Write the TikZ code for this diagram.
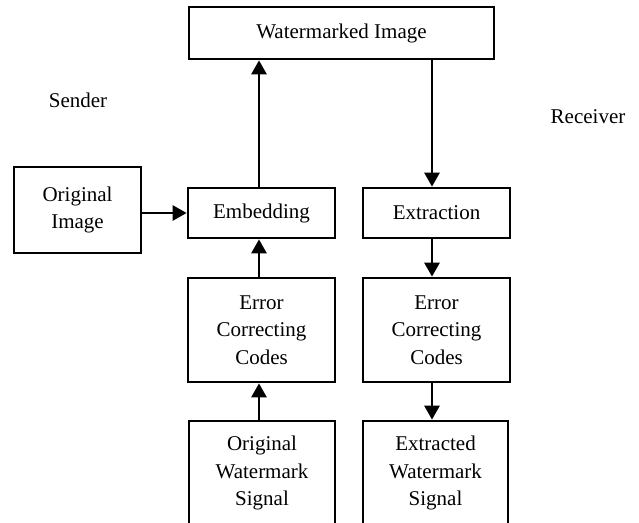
\documentclass[tikz,border=0pt]{standalone}
\usepackage{fontspec}
\setmainfont{Liberation Serif}
\usetikzlibrary{arrows.meta}
\begin{document}
\begin{tikzpicture}[x=1pt,y=1pt,
  box/.style={draw,line width=2.7pt,align=center,inner sep=0pt,
    font=\fontsize{21}{27.5}\selectfont},
  lbl/.style={inner sep=0pt,font=\fontsize{21}{27.5}\selectfont},
  arr/.style={line width=2.7pt,-{Triangle[width=15pt,length=14pt]}}]
\clip (0,0) rectangle (639,-522);
\fill[white] (0,0) rectangle (639,-522);
\node[box,minimum width=305,minimum height=52] (wm) at (341.5,-33) {Watermarked Image};
\node[box,minimum width=127,minimum height=86] (orig) at (77.5,-210) {Original\\Image};
\node[box,minimum width=147,minimum height=50] (emb) at (261.5,-213) {Embedding};
\node[box,minimum width=147,minimum height=50] (ext) at (436.5,-213) {Extraction};
\node[box,minimum width=147,minimum height=104] (ecc1) at (261.5,-330) {Error\\Correcting\\Codes};
\node[box,minimum width=147,minimum height=104] (ecc2) at (436.5,-330) {Error\\Correcting\\Codes};
\node[box,minimum width=146,minimum height=104] (ows) at (262,-473) {Original\\Watermark\\Signal};
\node[box,minimum width=145,minimum height=104] (ews) at (435.5,-473) {Extracted\\Watermark\\Signal};
\node[lbl] (snd) at (78,-100) {Sender};
\node[lbl] (rcv) at (588,-117) {Receiver};
\coordinate (lx) at (259,0);
\coordinate (rx) at (432,0);
\draw[arr] (orig.east |- emb.west) -- (emb.west);
\draw[arr] (emb.north -| lx) -- (wm.south -| lx);
\draw[arr] (ecc1.north -| lx) -- (emb.south -| lx);
\draw[arr] (ows.north -| lx) -- (ecc1.south -| lx);
\draw[arr] (wm.south -| rx) -- (ext.north -| rx);
\draw[arr] (ext.south -| rx) -- (ecc2.north -| rx);
\draw[arr] (ecc2.south -| rx) -- (ews.north -| rx);
\end{tikzpicture}
\end{document}
